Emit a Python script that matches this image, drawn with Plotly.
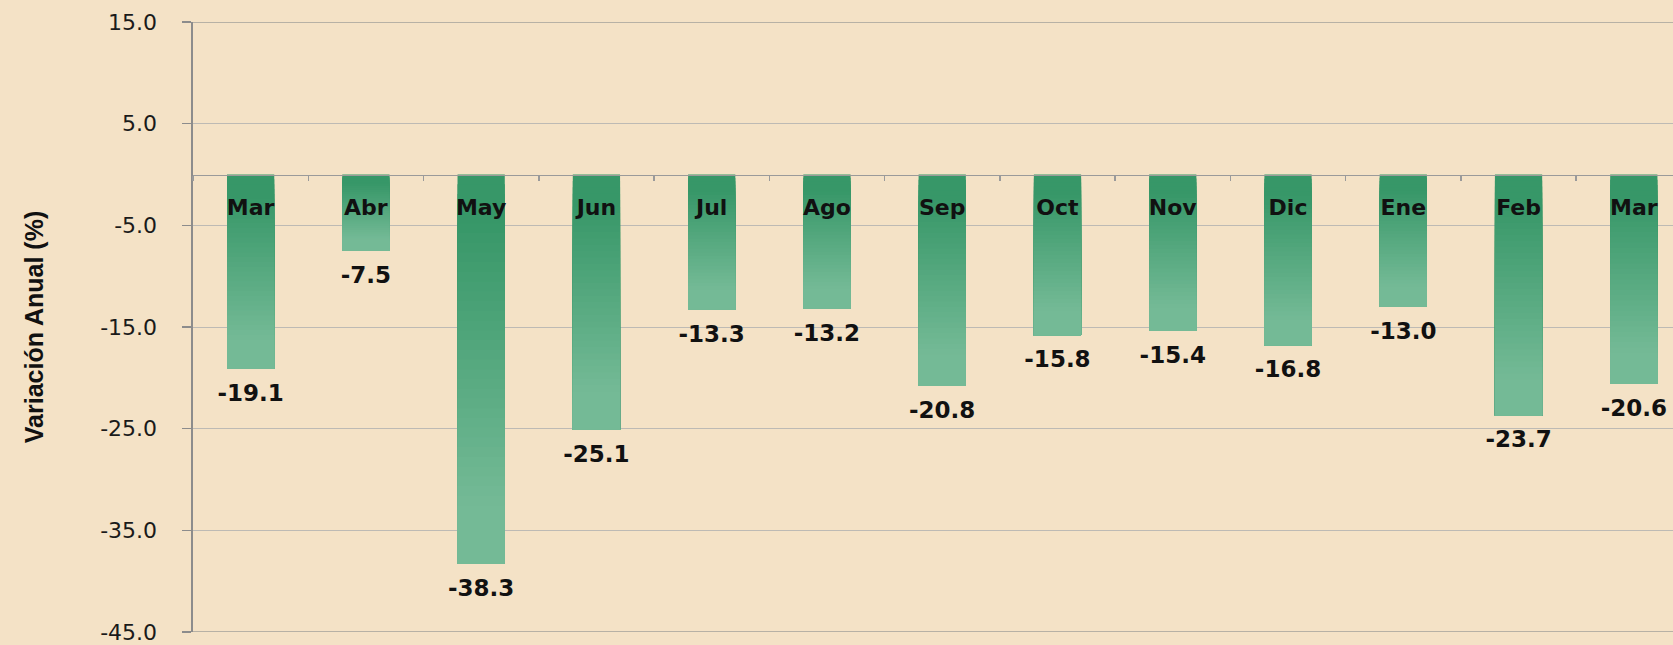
import plotly.graph_objects as go

# ---- data ----
months = ["Mar", "Abr", "May", "Jun", "Jul", "Ago", "Sep", "Oct", "Nov", "Dic", "Ene", "Feb", "Mar"]
values = [-19.1, -7.5, -38.3, -25.1, -13.3, -13.2, -20.8, -15.8, -15.4, -16.8, -13.0, -23.7, -20.6]
y_ticks = [15, 5, -5, -15, -25, -35, -45]
y_title = "Variación Anual (%)"

# ---- style ----
BG = "#F4E2C6"
TOP = (55, 151, 104)
BOT = (116, 186, 150)
N_SLICES = 40
BAR_W = 0.41
x_pos = list(range(len(months)))


def grad_color(t):
    # flat dark near top, fade, flat light near bottom
    if t < 0.12:
        f = 0.0
    elif t > 0.85:
        f = 1.0
    else:
        f = (t - 0.12) / (0.85 - 0.12)
    c = [round(a + (b - a) * f) for a, b in zip(TOP, BOT)]
    return "rgb(%d,%d,%d)" % tuple(c)


fig = go.Figure()

# gradient-filled bars: nested layers, each starting a bit lower and reaching the value
for k in range(N_SLICES):
    t = k / N_SLICES
    fig.add_trace(go.Bar(
        x=x_pos,
        y=[v * (1 - t) for v in values],
        base=[v * t for v in values],
        width=BAR_W,
        marker=dict(color=grad_color(t + 0.5 / N_SLICES), line=dict(width=0)),
        hoverinfo="skip",
        showlegend=False,
    ))

# data labels
fig.add_trace(go.Scatter(
    x=x_pos,
    y=values,
    mode="markers+text",
    marker=dict(size=22, opacity=0),
    text=["%.1f" % v for v in values],
    textposition="bottom center",
    textfont=dict(family="DejaVu Sans, Arial, sans-serif", size=23, color="#111111", weight="bold"),
    cliponaxis=False,
    hoverinfo="skip",
    showlegend=False,
))

# frame lines at top (15) and bottom (-45) of the value range
for yv in (y_ticks[0], y_ticks[-1]):
    fig.add_shape(type="line", xref="paper", x0=0, x1=1, yref="y", y0=yv, y1=yv,
                  line=dict(color="#A3A09A", width=1.5), layer="below")

fig.update_layout(
    width=1673,
    height=645,
    margin=dict(l=193, r=0, t=22, b=8),
    paper_bgcolor=BG,
    plot_bgcolor=BG,
    barmode="overlay",
    xaxis=dict(
        range=[-0.5, 12.34],
        anchor="free",
        position=45 / 60,
        tickmode="array",
        tickvals=x_pos,
        ticktext=months,
        ticks="",
        ticklabelstandoff=13,
        tickfont=dict(family="DejaVu Sans, Arial, sans-serif", size=22, color="#111111", weight="bold"),
        showline=True,
        linecolor="#9A9A9A",
        linewidth=1.5,
        showgrid=False,
        zeroline=False,
        minor=dict(tickmode="linear", tick0=0.5, dtick=1, ticks="outside",
                   ticklen=5, tickcolor="#9A9A9A", tickwidth=1.5, showgrid=False),
        layer="above traces",
    ),
    yaxis=dict(
        range=[-45, 15],
        tickmode="array",
        tickvals=y_ticks,
        ticktext=["%.1f" % v for v in y_ticks],
        tickfont=dict(family="DejaVu Sans, Arial, sans-serif", size=22, color="#1A1A1A"),
        ticks="outside",
        ticklen=9,
        tickwidth=1.5,
        tickcolor="#8C8C8C",
        ticklabelstandoff=20,
        ticklabeloverflow="allow",
        showline=True,
        linecolor="#8C8C8C",
        linewidth=2.5,
        showgrid=True,
        gridcolor="#BDBAB4",
        gridwidth=1,
        zeroline=False,
        title=dict(
            text=y_title,
            font=dict(family="Liberation Sans Narrow, Arial Narrow, Liberation Sans, Arial, sans-serif",
                      size=25, color="#111111", weight="bold"),
            standoff=50,
        ),
    ),
)

fig.write_html(
    "out.html",
    config={"displayModeBar": False, "staticPlot": True},
    post_script="document.body.style.margin='0';document.body.style.overflow='hidden';"
                "document.body.style.background='" + BG + "';",
)
